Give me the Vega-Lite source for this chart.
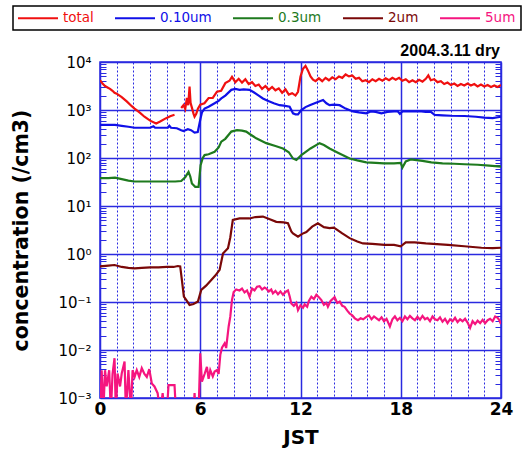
{
  "$schema": "https://vega.github.io/schema/vega-lite/v6.json",
  "width": 401,
  "height": 336,
  "autosize": "none",
  "padding": {"left": 100, "top": 62, "right": 21, "bottom": 55},
  "background": "white",
  "config": {"view": {"stroke": "#2a2ae0", "strokeWidth": 1.5}, "font": "DejaVu Sans"},
  "data": {"values": [
    {"s":"total","g":1,"h":0,"v":4170},{"s":"total","g":1,"h":0.15,"v":3550},{"s":"total","g":1,"h":0.3,"v":3160},{"s":"total","g":1,"h":0.45,"v":2950},{"s":"total","g":1,"h":0.6,"v":2750},{"s":"total","g":1,"h":0.75,"v":2510},{"s":"total","g":1,"h":0.87,"v":2290},{"s":"total","g":1,"h":1.0,"v":2190},{"s":"total","g":1,"h":1.3,"v":1860},{"s":"total","g":1,"h":1.6,"v":1510},{"s":"total","g":1,"h":1.9,"v":1200},{"s":"total","g":1,"h":2.07,"v":1070},{"s":"total","g":1,"h":2.4,"v":870},{"s":"total","g":1,"h":2.66,"v":725},{"s":"total","g":1,"h":3.0,"v":600},{"s":"total","g":1,"h":3.36,"v":525},{"s":"total","g":1,"h":3.6,"v":575},{"s":"total","g":1,"h":3.96,"v":676},{"s":"total","g":1,"h":4.2,"v":741},{"s":"total","g":1,"h":4.46,"v":794},
    {"s":"total","g":2,"h":4.86,"v":1100},{"s":"total","g":2,"h":5.0,"v":1260},{"s":"total","g":2,"h":5.1,"v":1050},{"s":"total","g":2,"h":5.2,"v":1780},{"s":"total","g":2,"h":5.28,"v":1260},{"s":"total","g":2,"h":5.36,"v":3090},{"s":"total","g":2,"h":5.42,"v":1410},{"s":"total","g":2,"h":5.5,"v":1120},{"s":"total","g":2,"h":5.6,"v":830},{"s":"total","g":2,"h":5.66,"v":725},{"s":"total","g":2,"h":5.76,"v":830},{"s":"total","g":2,"h":5.86,"v":1070},{"s":"total","g":2,"h":6.0,"v":1290},{"s":"total","g":2,"h":6.25,"v":1380},{"s":"total","g":2,"h":6.5,"v":1780},{"s":"total","g":2,"h":6.75,"v":1780},{"s":"total","g":2,"h":7.0,"v":2400},{"s":"total","g":2,"h":7.25,"v":2510},{"s":"total","g":2,"h":7.5,"v":3630},{"s":"total","g":2,"h":7.75,"v":4070},{"s":"total","g":2,"h":7.9,"v":4900},{"s":"total","g":2,"h":8.1,"v":3800},{"s":"total","g":2,"h":8.3,"v":4470},{"s":"total","g":2,"h":8.5,"v":3720},{"s":"total","g":2,"h":8.7,"v":4370},{"s":"total","g":2,"h":8.9,"v":3470},{"s":"total","g":2,"h":9.1,"v":3800},{"s":"total","g":2,"h":9.3,"v":3160},{"s":"total","g":2,"h":9.5,"v":3390},{"s":"total","g":2,"h":9.7,"v":2750},{"s":"total","g":2,"h":9.9,"v":3160},{"s":"total","g":2,"h":10.1,"v":2630},{"s":"total","g":2,"h":10.3,"v":3020},{"s":"total","g":2,"h":10.5,"v":2570},{"s":"total","g":2,"h":10.7,"v":2820},{"s":"total","g":2,"h":10.9,"v":2290},{"s":"total","g":2,"h":11.1,"v":2690},{"s":"total","g":2,"h":11.3,"v":2090},{"s":"total","g":2,"h":11.5,"v":2240},{"s":"total","g":2,"h":11.7,"v":2000},{"s":"total","g":2,"h":11.85,"v":2400},{"s":"total","g":2,"h":12.0,"v":5010},{"s":"total","g":2,"h":12.15,"v":7240},{"s":"total","g":2,"h":12.3,"v":8320},{"s":"total","g":2,"h":12.45,"v":6610},{"s":"total","g":2,"h":12.6,"v":5010},{"s":"total","g":2,"h":12.75,"v":4270},{"s":"total","g":2,"h":12.9,"v":3980},{"s":"total","g":2,"h":13.1,"v":4570},{"s":"total","g":2,"h":13.3,"v":3980},{"s":"total","g":2,"h":13.5,"v":4680},{"s":"total","g":2,"h":13.7,"v":4170},{"s":"total","g":2,"h":13.9,"v":4790},{"s":"total","g":2,"h":14.1,"v":4370},{"s":"total","g":2,"h":14.3,"v":5010},{"s":"total","g":2,"h":14.5,"v":4680},{"s":"total","g":2,"h":14.7,"v":5500},{"s":"total","g":2,"h":14.9,"v":5010},{"s":"total","g":2,"h":15.1,"v":5250},{"s":"total","g":2,"h":15.3,"v":4470},{"s":"total","g":2,"h":15.5,"v":4680},{"s":"total","g":2,"h":15.7,"v":3980},{"s":"total","g":2,"h":15.9,"v":4170},{"s":"total","g":2,"h":16.1,"v":3800},{"s":"total","g":2,"h":16.3,"v":4370},{"s":"total","g":2,"h":16.5,"v":3980},{"s":"total","g":2,"h":16.7,"v":4470},{"s":"total","g":2,"h":16.9,"v":4070},{"s":"total","g":2,"h":17.1,"v":4570},{"s":"total","g":2,"h":17.3,"v":4170},{"s":"total","g":2,"h":17.5,"v":4680},{"s":"total","g":2,"h":17.7,"v":4270},{"s":"total","g":2,"h":17.9,"v":4680},{"s":"total","g":2,"h":18.1,"v":4070},{"s":"total","g":2,"h":18.3,"v":4370},{"s":"total","g":2,"h":18.5,"v":3800},{"s":"total","g":2,"h":18.7,"v":4170},{"s":"total","g":2,"h":18.9,"v":3800},{"s":"total","g":2,"h":19.1,"v":4270},{"s":"total","g":2,"h":19.3,"v":3890},{"s":"total","g":2,"h":19.5,"v":4470},{"s":"total","g":2,"h":19.65,"v":5250},{"s":"total","g":2,"h":19.8,"v":4170},{"s":"total","g":2,"h":20.0,"v":4370},{"s":"total","g":2,"h":20.2,"v":3800},{"s":"total","g":2,"h":20.4,"v":3980},{"s":"total","g":2,"h":20.6,"v":3470},{"s":"total","g":2,"h":20.8,"v":3720},{"s":"total","g":2,"h":21.0,"v":3310},{"s":"total","g":2,"h":21.2,"v":3550},{"s":"total","g":2,"h":21.4,"v":3160},{"s":"total","g":2,"h":21.6,"v":3470},{"s":"total","g":2,"h":21.8,"v":3240},{"s":"total","g":2,"h":22.0,"v":3550},{"s":"total","g":2,"h":22.2,"v":3240},{"s":"total","g":2,"h":22.4,"v":3470},{"s":"total","g":2,"h":22.6,"v":3090},{"s":"total","g":2,"h":22.8,"v":3390},{"s":"total","g":2,"h":23.0,"v":3090},{"s":"total","g":2,"h":23.2,"v":3310},{"s":"total","g":2,"h":23.4,"v":3020},{"s":"total","g":2,"h":23.6,"v":3240},{"s":"total","g":2,"h":23.8,"v":3020},{"s":"total","g":2,"h":24.0,"v":3310},
    {"s":"0.10um","h":0,"v":490},{"s":"0.10um","h":0.5,"v":490},{"s":"0.10um","h":0.9,"v":490},{"s":"0.10um","h":1.3,"v":468},{"s":"0.10um","h":1.7,"v":447},{"s":"0.10um","h":2.07,"v":427},{"s":"0.10um","h":2.5,"v":427},{"s":"0.10um","h":3.0,"v":427},{"s":"0.10um","h":3.2,"v":457},{"s":"0.10um","h":3.3,"v":427},{"s":"0.10um","h":3.7,"v":427},{"s":"0.10um","h":4.06,"v":427},{"s":"0.10um","h":4.15,"v":468},{"s":"0.10um","h":4.25,"v":427},{"s":"0.10um","h":4.6,"v":417},{"s":"0.10um","h":4.86,"v":380},{"s":"0.10um","h":5.0,"v":363},{"s":"0.10um","h":5.26,"v":398},{"s":"0.10um","h":5.45,"v":380},{"s":"0.10um","h":5.66,"v":339},{"s":"0.10um","h":5.85,"v":347},{"s":"0.10um","h":6.02,"v":676},{"s":"0.10um","h":6.1,"v":891},{"s":"0.10um","h":6.26,"v":1070},{"s":"0.10um","h":6.5,"v":1170},{"s":"0.10um","h":6.86,"v":1380},{"s":"0.10um","h":7.1,"v":1550},{"s":"0.10um","h":7.26,"v":1740},{"s":"0.10um","h":7.5,"v":2000},{"s":"0.10um","h":7.86,"v":2630},{"s":"0.10um","h":8.1,"v":2750},{"s":"0.10um","h":8.35,"v":2630},{"s":"0.10um","h":8.6,"v":2690},{"s":"0.10um","h":8.95,"v":2630},{"s":"0.10um","h":9.2,"v":2340},{"s":"0.10um","h":9.5,"v":2000},{"s":"0.10um","h":9.75,"v":1740},{"s":"0.10um","h":10.0,"v":1580},{"s":"0.10um","h":10.4,"v":1380},{"s":"0.10um","h":10.75,"v":1260},{"s":"0.10um","h":11.0,"v":1230},{"s":"0.10um","h":11.35,"v":1170},{"s":"0.10um","h":11.55,"v":851},{"s":"0.10um","h":11.7,"v":813},{"s":"0.10um","h":11.85,"v":813},{"s":"0.10um","h":12.05,"v":1000},{"s":"0.10um","h":12.3,"v":1150},{"s":"0.10um","h":12.55,"v":1260},{"s":"0.10um","h":13.0,"v":1450},{"s":"0.10um","h":13.35,"v":1620},{"s":"0.10um","h":13.55,"v":1380},{"s":"0.10um","h":13.74,"v":1260},{"s":"0.10um","h":14.0,"v":1290},{"s":"0.10um","h":14.34,"v":1260},{"s":"0.10um","h":14.7,"v":1070},{"s":"0.10um","h":15.14,"v":933},{"s":"0.10um","h":15.5,"v":891},{"s":"0.10um","h":15.94,"v":851},{"s":"0.10um","h":16.2,"v":933},{"s":"0.10um","h":16.5,"v":912},{"s":"0.10um","h":16.84,"v":851},{"s":"0.10um","h":17.2,"v":912},{"s":"0.10um","h":17.6,"v":933},{"s":"0.10um","h":17.83,"v":933},{"s":"0.10um","h":17.95,"v":832},{"s":"0.10um","h":18.1,"v":933},{"s":"0.10um","h":18.6,"v":933},{"s":"0.10um","h":19.23,"v":933},{"s":"0.10um","h":19.5,"v":912},{"s":"0.10um","h":19.8,"v":912},{"s":"0.10um","h":20.03,"v":794},{"s":"0.10um","h":20.5,"v":776},{"s":"0.10um","h":21.0,"v":759},{"s":"0.10um","h":21.83,"v":750},{"s":"0.10um","h":22.5,"v":724},{"s":"0.10um","h":23.0,"v":692},{"s":"0.10um","h":23.5,"v":676},{"s":"0.10um","h":24.0,"v":724},
    {"s":"0.3um","h":0,"v":38},{"s":"0.3um","h":0.5,"v":38},{"s":"0.3um","h":0.9,"v":38.9},{"s":"0.3um","h":1.3,"v":36.3},{"s":"0.3um","h":1.7,"v":33.9},{"s":"0.3um","h":2.07,"v":32.4},{"s":"0.3um","h":2.5,"v":32.4},{"s":"0.3um","h":3.0,"v":32.4},{"s":"0.3um","h":3.5,"v":32.4},{"s":"0.3um","h":4.0,"v":32.4},{"s":"0.3um","h":4.5,"v":32.4},{"s":"0.3um","h":4.86,"v":33.1},{"s":"0.3um","h":5.1,"v":39.8},{"s":"0.3um","h":5.3,"v":51.3},{"s":"0.3um","h":5.4,"v":41.7},{"s":"0.3um","h":5.5,"v":29.5},{"s":"0.3um","h":5.7,"v":25.1},{"s":"0.3um","h":5.9,"v":25.1},{"s":"0.3um","h":6.02,"v":70.8},{"s":"0.3um","h":6.15,"v":100},{"s":"0.3um","h":6.26,"v":115},{"s":"0.3um","h":6.5,"v":120},{"s":"0.3um","h":6.86,"v":135},{"s":"0.3um","h":7.1,"v":166},{"s":"0.3um","h":7.26,"v":219},{"s":"0.3um","h":7.5,"v":251},{"s":"0.3um","h":7.86,"v":355},{"s":"0.3um","h":8.2,"v":380},{"s":"0.3um","h":8.5,"v":372},{"s":"0.3um","h":8.75,"v":355},{"s":"0.3um","h":9.0,"v":309},{"s":"0.3um","h":9.35,"v":257},{"s":"0.3um","h":9.95,"v":204},{"s":"0.3um","h":10.5,"v":178},{"s":"0.3um","h":10.95,"v":158},{"s":"0.3um","h":11.3,"v":132},{"s":"0.3um","h":11.55,"v":97.7},{"s":"0.3um","h":11.75,"v":91.2},{"s":"0.3um","h":12.05,"v":115},{"s":"0.3um","h":12.6,"v":158},{"s":"0.3um","h":13.14,"v":204},{"s":"0.3um","h":13.4,"v":186},{"s":"0.3um","h":13.74,"v":158},{"s":"0.3um","h":14.3,"v":126},{"s":"0.3um","h":14.94,"v":97.7},{"s":"0.3um","h":15.4,"v":89.1},{"s":"0.3um","h":15.94,"v":81.3},{"s":"0.3um","h":16.5,"v":79.4},{"s":"0.3um","h":17.0,"v":77.6},{"s":"0.3um","h":17.6,"v":77.6},{"s":"0.3um","h":18.0,"v":79.4},{"s":"0.3um","h":18.1,"v":63.1},{"s":"0.3um","h":18.3,"v":85.1},{"s":"0.3um","h":18.6,"v":93.3},{"s":"0.3um","h":18.83,"v":91.2},{"s":"0.3um","h":19.3,"v":87.1},{"s":"0.3um","h":19.83,"v":81.3},{"s":"0.3um","h":20.5,"v":77.6},{"s":"0.3um","h":21.2,"v":75.9},{"s":"0.3um","h":21.83,"v":74.1},{"s":"0.3um","h":22.6,"v":72.4},{"s":"0.3um","h":23.3,"v":69.2},{"s":"0.3um","h":24.0,"v":66.1},
    {"s":"2um","h":0,"v":0.55},{"s":"2um","h":0.5,"v":0.575},{"s":"2um","h":0.87,"v":0.59},{"s":"2um","h":1.3,"v":0.537},{"s":"2um","h":1.7,"v":0.513},{"s":"2um","h":2.07,"v":0.5},{"s":"2um","h":2.5,"v":0.513},{"s":"2um","h":3.0,"v":0.525},{"s":"2um","h":3.5,"v":0.525},{"s":"2um","h":4.0,"v":0.537},{"s":"2um","h":4.4,"v":0.537},{"s":"2um","h":4.66,"v":0.562},{"s":"2um","h":4.8,"v":0.55},{"s":"2um","h":4.9,"v":0.288},{"s":"2um","h":5.02,"v":0.129},{"s":"2um","h":5.2,"v":0.105},{"s":"2um","h":5.36,"v":0.087},{"s":"2um","h":5.6,"v":0.091},{"s":"2um","h":5.86,"v":0.102},{"s":"2um","h":6.06,"v":0.178},{"s":"2um","h":6.35,"v":0.219},{"s":"2um","h":6.66,"v":0.288},{"s":"2um","h":6.9,"v":0.355},{"s":"2um","h":7.16,"v":0.468},{"s":"2um","h":7.36,"v":1.02},{"s":"2um","h":7.66,"v":1.32},{"s":"2um","h":7.8,"v":2.24},{"s":"2um","h":7.95,"v":5.13},{"s":"2um","h":8.35,"v":5.5},{"s":"2um","h":8.95,"v":5.5},{"s":"2um","h":9.3,"v":5.89},{"s":"2um","h":9.75,"v":6.03},{"s":"2um","h":10.2,"v":5.25},{"s":"2um","h":10.55,"v":4.68},{"s":"2um","h":11.0,"v":4.57},{"s":"2um","h":11.25,"v":4.37},{"s":"2um","h":11.45,"v":2.95},{"s":"2um","h":11.55,"v":2.69},{"s":"2um","h":11.85,"v":2.29},{"s":"2um","h":12.1,"v":2.63},{"s":"2um","h":12.35,"v":2.88},{"s":"2um","h":12.7,"v":3.72},{"s":"2um","h":13.04,"v":4.37},{"s":"2um","h":13.4,"v":3.63},{"s":"2um","h":13.74,"v":3.47},{"s":"2um","h":14.0,"v":3.55},{"s":"2um","h":14.5,"v":2.69},{"s":"2um","h":14.94,"v":2.14},{"s":"2um","h":15.4,"v":1.82},{"s":"2um","h":15.74,"v":1.66},{"s":"2um","h":16.3,"v":1.62},{"s":"2um","h":17.04,"v":1.55},{"s":"2um","h":17.6,"v":1.55},{"s":"2um","h":18.0,"v":1.45},{"s":"2um","h":18.3,"v":1.74},{"s":"2um","h":18.83,"v":1.74},{"s":"2um","h":19.5,"v":1.66},{"s":"2um","h":20.83,"v":1.55},{"s":"2um","h":21.8,"v":1.45},{"s":"2um","h":22.83,"v":1.35},{"s":"2um","h":23.5,"v":1.32},{"s":"2um","h":24.0,"v":1.35},
    {"s":"5um","h":0,"v":0.0005},{"s":"5um","h":0.1,"v":0.0038},{"s":"5um","h":0.2,"v":0.0005},{"s":"5um","h":0.3,"v":0.0038},{"s":"5um","h":0.4,"v":0.00174},{"s":"5um","h":0.55,"v":0.0038},{"s":"5um","h":0.65,"v":0.0005},{"s":"5um","h":0.75,"v":0.00316},{"s":"5um","h":0.87,"v":0.00676},{"s":"5um","h":0.95,"v":0.0005},{"s":"5um","h":1.05,"v":0.00324},{"s":"5um","h":1.2,"v":0.00174},{"s":"5um","h":1.3,"v":0.00324},{"s":"5um","h":1.47,"v":0.00575},{"s":"5um","h":1.55,"v":0.0005},{"s":"5um","h":1.7,"v":0.0038},{"s":"5um","h":1.85,"v":0.0005},{"s":"5um","h":1.95,"v":0.0038},{"s":"5um","h":2.07,"v":0.00275},{"s":"5um","h":2.2,"v":0.0038},{"s":"5um","h":2.35,"v":0.00275},{"s":"5um","h":2.5,"v":0.00417},{"s":"5um","h":2.66,"v":0.00316},{"s":"5um","h":2.8,"v":0.00275},{"s":"5um","h":2.95,"v":0.00398},{"s":"5um","h":3.1,"v":0.002},{"s":"5um","h":3.26,"v":0.00174},{"s":"5um","h":3.45,"v":0.00126},{"s":"5um","h":3.6,"v":0.0005},{"s":"5um","h":3.75,"v":0.00126},{"s":"5um","h":3.86,"v":0.0005},{"s":"5um","h":4.0,"v":0.0005},{"s":"5um","h":4.1,"v":0.00186},{"s":"5um","h":4.46,"v":0.00186},{"s":"5um","h":4.55,"v":0.0005},{"s":"5um","h":5.6,"v":0.0005},{"s":"5um","h":5.66,"v":0.00126},{"s":"5um","h":5.72,"v":0.0005},{"s":"5um","h":5.9,"v":0.0005},{"s":"5um","h":6.0,"v":0.0085},{"s":"5um","h":6.1,"v":0.00219},{"s":"5um","h":6.26,"v":0.00316},{"s":"5um","h":6.4,"v":0.00447},{"s":"5um","h":6.5,"v":0.00251},{"s":"5um","h":6.6,"v":0.0038},{"s":"5um","h":6.75,"v":0.00282},{"s":"5um","h":6.86,"v":0.00355},{"s":"5um","h":7.0,"v":0.0038},{"s":"5um","h":7.1,"v":0.00316},{"s":"5um","h":7.2,"v":0.00794},{"s":"5um","h":7.3,"v":0.0112},{"s":"5um","h":7.46,"v":0.0138},{"s":"5um","h":7.55,"v":0.011},{"s":"5um","h":7.7,"v":0.0309},{"s":"5um","h":7.8,"v":0.0501},{"s":"5um","h":7.9,"v":0.11},{"s":"5um","h":8.0,"v":0.162},{"s":"5um","h":8.15,"v":0.182},{"s":"5um","h":8.35,"v":0.174},{"s":"5um","h":8.5,"v":0.191},{"s":"5um","h":8.65,"v":0.158},{"s":"5um","h":8.8,"v":0.174},{"s":"5um","h":8.95,"v":0.129},{"s":"5um","h":9.1,"v":0.191},{"s":"5um","h":9.25,"v":0.174},{"s":"5um","h":9.4,"v":0.209},{"s":"5um","h":9.55,"v":0.214},{"s":"5um","h":9.7,"v":0.182},{"s":"5um","h":9.85,"v":0.2},{"s":"5um","h":9.95,"v":0.191},{"s":"5um","h":10.1,"v":0.166},{"s":"5um","h":10.25,"v":0.182},{"s":"5um","h":10.35,"v":0.151},{"s":"5um","h":10.5,"v":0.17},{"s":"5um","h":10.65,"v":0.145},{"s":"5um","h":10.8,"v":0.166},{"s":"5um","h":10.95,"v":0.141},{"s":"5um","h":11.1,"v":0.162},{"s":"5um","h":11.25,"v":0.174},{"s":"5um","h":11.35,"v":0.132},{"s":"5um","h":11.45,"v":0.0933},{"s":"5um","h":11.6,"v":0.0832},{"s":"5um","h":11.75,"v":0.0955},{"s":"5um","h":11.85,"v":0.0676},{"s":"5um","h":12.0,"v":0.0851},{"s":"5um","h":12.15,"v":0.0759},{"s":"5um","h":12.25,"v":0.0891},{"s":"5um","h":12.4,"v":0.0794},{"s":"5um","h":12.5,"v":0.105},{"s":"5um","h":12.65,"v":0.129},{"s":"5um","h":12.8,"v":0.115},{"s":"5um","h":12.95,"v":0.141},{"s":"5um","h":13.1,"v":0.126},{"s":"5um","h":13.25,"v":0.11},{"s":"5um","h":13.4,"v":0.0871},{"s":"5um","h":13.55,"v":0.0955},{"s":"5um","h":13.64,"v":0.0794},{"s":"5um","h":13.8,"v":0.105},{"s":"5um","h":14.04,"v":0.126},{"s":"5um","h":14.2,"v":0.0955},{"s":"5um","h":14.35,"v":0.102},{"s":"5um","h":14.5,"v":0.0832},{"s":"5um","h":14.64,"v":0.0794},{"s":"5um","h":14.8,"v":0.0661},{"s":"5um","h":14.94,"v":0.0575},{"s":"5um","h":15.1,"v":0.0525},{"s":"5um","h":15.25,"v":0.0457},{"s":"5um","h":15.44,"v":0.0417},{"s":"5um","h":15.6,"v":0.0457},{"s":"5um","h":15.75,"v":0.0437},{"s":"5um","h":15.94,"v":0.049},{"s":"5um","h":16.1,"v":0.0525},{"s":"5um","h":16.25,"v":0.0437},{"s":"5um","h":16.4,"v":0.0501},{"s":"5um","h":16.55,"v":0.0457},{"s":"5um","h":16.7,"v":0.0417},{"s":"5um","h":16.85,"v":0.0479},{"s":"5um","h":17.0,"v":0.0398},{"s":"5um","h":17.15,"v":0.0447},{"s":"5um","h":17.35,"v":0.0309},{"s":"5um","h":17.5,"v":0.0437},{"s":"5um","h":17.65,"v":0.0501},{"s":"5um","h":17.8,"v":0.0417},{"s":"5um","h":17.95,"v":0.0468},{"s":"5um","h":18.1,"v":0.0398},{"s":"5um","h":18.25,"v":0.0501},{"s":"5um","h":18.4,"v":0.0437},{"s":"5um","h":18.55,"v":0.0513},{"s":"5um","h":18.7,"v":0.0457},{"s":"5um","h":18.85,"v":0.0417},{"s":"5um","h":19.0,"v":0.049},{"s":"5um","h":19.15,"v":0.0427},{"s":"5um","h":19.3,"v":0.0513},{"s":"5um","h":19.45,"v":0.0437},{"s":"5um","h":19.6,"v":0.0468},{"s":"5um","h":19.75,"v":0.0398},{"s":"5um","h":19.9,"v":0.0501},{"s":"5um","h":20.05,"v":0.0437},{"s":"5um","h":20.2,"v":0.0417},{"s":"5um","h":20.35,"v":0.0479},{"s":"5um","h":20.5,"v":0.0389},{"s":"5um","h":20.65,"v":0.0447},{"s":"5um","h":20.8,"v":0.0363},{"s":"5um","h":20.95,"v":0.0437},{"s":"5um","h":21.1,"v":0.0398},{"s":"5um","h":21.25,"v":0.0468},{"s":"5um","h":21.4,"v":0.038},{"s":"5um","h":21.55,"v":0.0437},{"s":"5um","h":21.7,"v":0.0398},{"s":"5um","h":21.85,"v":0.0447},{"s":"5um","h":22.0,"v":0.0372},{"s":"5um","h":22.15,"v":0.0288},{"s":"5um","h":22.3,"v":0.0398},{"s":"5um","h":22.45,"v":0.0347},{"s":"5um","h":22.6,"v":0.0407},{"s":"5um","h":22.75,"v":0.0363},{"s":"5um","h":22.9,"v":0.0427},{"s":"5um","h":23.05,"v":0.0363},{"s":"5um","h":23.2,"v":0.0417},{"s":"5um","h":23.35,"v":0.0447},{"s":"5um","h":23.5,"v":0.0398},{"s":"5um","h":23.65,"v":0.0501},{"s":"5um","h":23.8,"v":0.0468},{"s":"5um","h":23.9,"v":0.0417},{"s":"5um","h":24.0,"v":0.0347}
  ]},
  "encoding": {
    "x": {"field": "h", "type": "quantitative", "scale": {"domain": [0, 24], "nice": false, "zero": false},
      "axis": {"values": [0,1,2,3,4,5,6,7,8,9,10,11,12,13,14,15,16,17,18,19,20,21,22,23,24],
        "labelExpr": "datum.value % 6 === 0 ? datum.label : ''",
        "grid": true, "gridColor": "#2a2ae0",
        "gridDash": {"condition": {"test": "datum.value % 6 === 0", "value": []}, "value": [2, 2]},
        "gridWidth": {"condition": {"test": "datum.value % 6 === 0", "value": 1.5}, "value": 1},
        "ticks": false, "domain": false, "labelFontSize": 17, "labelFontWeight": "bold", "labelColor": "black",
        "labelPadding": 3, "labelFlush": false, "labelOverlap": false, "labelFont": "DejaVu Sans",
        "title": "JST", "titleFontSize": 20, "titleFontWeight": "bold", "titleColor": "black", "titlePadding": 10, "titleFont": "DejaVu Sans"}}
  },
  "layer": [
    {
      "mark": {"type": "line", "clip": true, "strokeWidth": 2.2},
      "encoding": {
        "y": {"field": "v", "type": "quantitative", "scale": {"type": "log", "domain": [0.001, 10000], "nice": false},
          "axis": {"values": [0.001,0.01,0.1,1,10,100,1000,10000],
            "labelExpr": "datum.value==10000?'10⁴':datum.value==1000?'10³':datum.value==100?'10²':datum.value==10?'10¹':datum.value==1?'10⁰':datum.value==0.1?'10⁻¹':datum.value==0.01?'10⁻²':datum.value==0.001?'10⁻³':''",
            "grid": true, "gridColor": "#2a2ae0", "gridWidth": 1.5,
            "ticks": false, "domain": false, "labelFontSize": 15, "labelColor": "black", "labelPadding": 9, "labelFlush": false, "labelOverlap": false, "labelBound": false, "labelFont": "DejaVu Sans",
            "title": "concentration (/cm3)", "titleFontSize": 20.5, "titleFontWeight": "bold", "titleColor": "black", "titlePadding": 26, "titleFont": "DejaVu Sans"}},
        "color": {"field": "s", "type": "nominal",
          "scale": {"domain": ["total", "0.10um", "0.3um", "2um", "5um"], "range": ["#f01010", "#1010e8", "#1e7a1e", "#7a0808", "#f5157f"]},
          "legend": {"title": null, "orient": "none", "legendX": -87, "legendY": -56, "direction": "horizontal",
            "symbolType": "M-4,0H4", "symbolSize": 100, "symbolStrokeWidth": 2,
            "labelFontSize": 13.5, "labelFont": "DejaVu Sans", "labelOffset": 4, "columnPadding": 17, "padding": 5,
            "strokeColor": "black", "fillColor": "white", "cornerRadius": 0,
            "encode": {
              "symbols": {"update": {"x": {"value": 20}}},
              "labels": {"update": {"fill": {"scale": "color", "field": "value"}, "x": {"value": 45}}},
              "legend": {"update": {"strokeWidth": {"value": 1.5}}}}}},
        "detail": {"field": "g", "type": "nominal"}
      }
    },
    {
      "mark": {"type": "point", "opacity": 0, "clip": true},
      "encoding": {
        "y": {"field": "v", "type": "quantitative",
          "axis": {"orient": "right", "offset": -6, "values": [0.002,0.003,0.004,0.005,0.006,0.007,0.008,0.009,0.02,0.03,0.04,0.05,0.06,0.07,0.08,0.09,0.2,0.3,0.4,0.5,0.6,0.7,0.8,0.9,2,3,4,5,6,7,8,9,20,30,40,50,60,70,80,90,200,300,400,500,600,700,800,900,2000,3000,4000,5000,6000,7000,8000,9000],
            "labels": false, "grid": false, "domain": false, "ticks": true, "tickColor": "#2a2ae0", "tickSize": 6, "tickWidth": 1, "title": null}}
      }
    },
    {
      "mark": {"type": "point", "opacity": 0, "clip": true},
      "encoding": {
        "y": {"field": "v", "type": "quantitative",
          "axis": {"orient": "left", "offset": -6, "values": [0.002,0.003,0.004,0.005,0.006,0.007,0.008,0.009,0.02,0.03,0.04,0.05,0.06,0.07,0.08,0.09,0.2,0.3,0.4,0.5,0.6,0.7,0.8,0.9,2,3,4,5,6,7,8,9,20,30,40,50,60,70,80,90,200,300,400,500,600,700,800,900,2000,3000,4000,5000,6000,7000,8000,9000],
            "labels": false, "grid": false, "domain": false, "ticks": true, "tickColor": "#2a2ae0", "tickSize": 6, "tickWidth": 1, "title": null}}
      }
    },
    {
      "data": {"values": [{"h": 24, "v": 10000, "t": "2004.3.11 dry"}]},
      "mark": {"type": "text", "align": "right", "baseline": "alphabetic", "dy": -6, "dx": -1, "fontSize": 16, "fontWeight": "bold", "fill": "black", "font": "Liberation Sans", "clip": false},
      "encoding": {
        "y": {"field": "v", "type": "quantitative", "axis": null},
        "text": {"field": "t", "type": "nominal"}
      }
    }
  ],
  "resolve": {"axis": {"y": "independent"}}
}
